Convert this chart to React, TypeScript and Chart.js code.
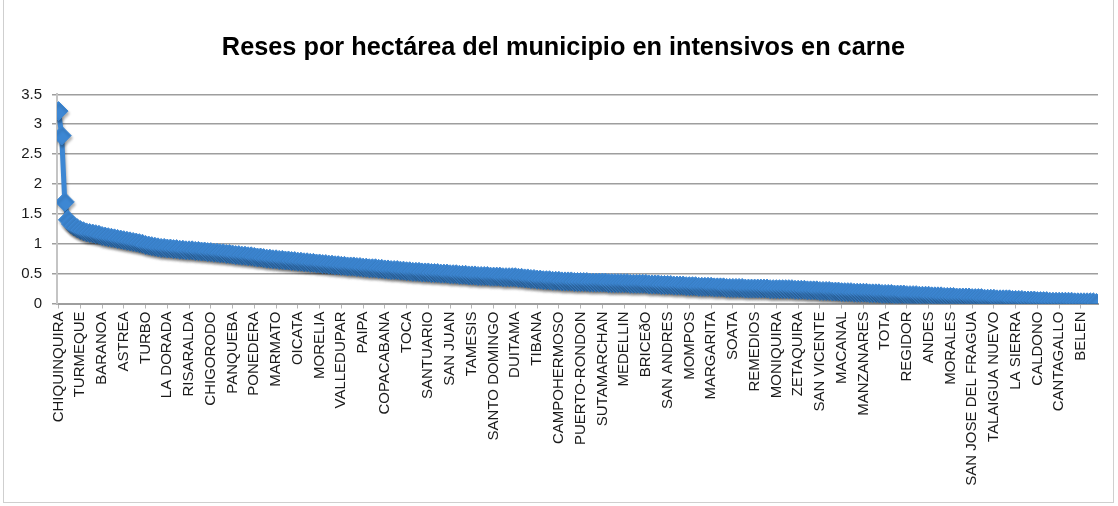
import React, { useEffect, useRef } from "react";
import { Chart, registerables } from "chart.js";

Chart.register(...registerables);

const chartTitle = "Reses por hectárea del municipio en intensivos en carne";

// Municipality names shown on the x axis (one label every `labelEvery` points)
const tickLabels = [
  "CHIQUINQUIRA", "TURMEQUE", "BARANOA", "ASTREA", "TURBO", "LA DORADA",
  "RISARALDA", "CHIGORODO", "PANQUEBA", "PONEDERA", "MARMATO", "OICATA",
  "MORELIA", "VALLEDUPAR", "PAIPA", "COPACABANA", "TOCA", "SANTUARIO",
  "SAN JUAN", "TAMESIS", "SANTO DOMINGO", "DUITAMA", "TIBANA", "CAMPOHERMOSO",
  "PUERTO-RONDON", "SUTAMARCHAN", "MEDELLIN", "BRICEðO", "SAN ANDRES", "MOMPOS",
  "MARGARITA", "SOATA", "REMEDIOS", "MONIQUIRA", "ZETAQUIRA", "SAN VICENTE",
  "MACANAL", "MANZANARES", "TOTA", "REGIDOR", "ANDES", "MORALES",
  "SAN JOSE DEL FRAGUA", "TALAIGUA NUEVO", "LA SIERRA", "CALDONO", "CANTAGALLO", "BELEN",
];
const labelEvery = 7;

// Reses por hectárea, one value per municipality (sorted descending)
const values = [
  3.22, 2.81, 1.70, 1.40, 1.33, 1.29, 1.26,
  1.23, 1.21, 1.19, 1.18, 1.17, 1.16, 1.15,
  1.13, 1.12, 1.11, 1.10, 1.09, 1.08, 1.07,
  1.06, 1.05, 1.04, 1.03, 1.02, 1.01, 1.00,
  0.98, 0.97, 0.96, 0.95, 0.94, 0.93, 0.93,
  0.92, 0.92, 0.91, 0.91, 0.90, 0.90, 0.89,
  0.89, 0.89, 0.88, 0.88, 0.87, 0.87, 0.86,
  0.86, 0.85, 0.85, 0.84, 0.84, 0.83, 0.83,
  0.82, 0.81, 0.81, 0.80, 0.80, 0.79, 0.79,
  0.78, 0.77, 0.77, 0.76, 0.75, 0.75, 0.74,
  0.74, 0.73, 0.73, 0.72, 0.72, 0.71, 0.71,
  0.70, 0.70, 0.69, 0.69, 0.68, 0.68, 0.67,
  0.67, 0.66, 0.66, 0.65, 0.65, 0.64, 0.64,
  0.63, 0.63, 0.62, 0.62, 0.62, 0.61, 0.61,
  0.60, 0.60, 0.59, 0.59, 0.59, 0.58, 0.58,
  0.57, 0.57, 0.56, 0.56, 0.56, 0.55, 0.55,
  0.54, 0.54, 0.53, 0.53, 0.53, 0.52, 0.52,
  0.52, 0.51, 0.51, 0.51, 0.50, 0.50, 0.50,
  0.49, 0.49, 0.49, 0.48, 0.48, 0.48, 0.47,
  0.47, 0.47, 0.46, 0.46, 0.46, 0.46, 0.45,
  0.45, 0.45, 0.45, 0.44, 0.44, 0.44, 0.44,
  0.44, 0.43, 0.43, 0.42, 0.42, 0.41, 0.41,
  0.40, 0.40, 0.39, 0.39, 0.39, 0.38, 0.38,
  0.38, 0.37, 0.37, 0.37, 0.37, 0.36, 0.36,
  0.36, 0.36, 0.36, 0.35, 0.35, 0.35, 0.35,
  0.35, 0.35, 0.34, 0.34, 0.34, 0.34, 0.34,
  0.34, 0.34, 0.33, 0.33, 0.33, 0.33, 0.33,
  0.33, 0.32, 0.32, 0.32, 0.32, 0.31, 0.31,
  0.31, 0.31, 0.30, 0.30, 0.30, 0.30, 0.29,
  0.29, 0.29, 0.29, 0.28, 0.28, 0.28, 0.28,
  0.28, 0.27, 0.27, 0.27, 0.27, 0.26, 0.26,
  0.26, 0.26, 0.26, 0.26, 0.25, 0.25, 0.25,
  0.25, 0.25, 0.25, 0.25, 0.25, 0.24, 0.24,
  0.24, 0.24, 0.24, 0.24, 0.24, 0.24, 0.23,
  0.23, 0.23, 0.23, 0.22, 0.22, 0.22, 0.22,
  0.21, 0.21, 0.21, 0.21, 0.20, 0.20, 0.20,
  0.19, 0.19, 0.19, 0.19, 0.18, 0.18, 0.18,
  0.18, 0.18, 0.17, 0.17, 0.17, 0.17, 0.16,
  0.16, 0.16, 0.16, 0.15, 0.15, 0.15, 0.15,
  0.14, 0.14, 0.14, 0.14, 0.13, 0.13, 0.13,
  0.13, 0.12, 0.12, 0.12, 0.12, 0.11, 0.11,
  0.11, 0.11, 0.10, 0.10, 0.10, 0.10, 0.10,
  0.09, 0.09, 0.09, 0.09, 0.08, 0.08, 0.08,
  0.08, 0.07, 0.07, 0.07, 0.07, 0.07, 0.06,
  0.06, 0.06, 0.06, 0.05, 0.05, 0.05, 0.05,
  0.04, 0.04, 0.04, 0.04, 0.03, 0.03, 0.03,
  0.03, 0.03, 0.03, 0.03, 0.03, 0.02, 0.02,
  0.02, 0.02, 0.02, 0.02, 0.02, 0.01,
];

const yMax = 3.5;
const yStep = 0.5;

const shadowPlugin = {
  id: "lineShadow",
  beforeDatasetsDraw(chart: any) {
    const ctx = chart.ctx;
    ctx.save();
    ctx.shadowColor = "rgba(0,0,0,0.32)";
    ctx.shadowBlur = 3;
    ctx.shadowOffsetX = 1;
    ctx.shadowOffsetY = 2.5;
  },
  afterDatasetsDraw(chart: any) {
    chart.ctx.restore();
  },
};

// centre the title over the region used in the original picture
const titleShiftPlugin = {
  id: "titleShift",
  afterLayout(chart: any) {
    const t = chart.titleBlock;
    if (t) {
      t.left = 29;
      t.right = chart.chartArea.right;
    }
  },
};

export default function App() {
  const canvasRef = useRef<HTMLCanvasElement | null>(null);

  useEffect(() => {
    const canvas = canvasRef.current;
    if (!canvas) return;
    const blue = "#3D87D3";
    const chart = new Chart(canvas, {
      type: "line",
      data: {
        datasets: [
          {
            data: values.map((v, i) => ({ x: i, y: v })),
            borderColor: blue,
            backgroundColor: blue,
            borderWidth: 5,
            pointStyle: "rectRot",
            pointRadius: 9.5,
            pointBackgroundColor: blue,
            pointBorderColor: blue,
            pointBorderWidth: 1,
            tension: 0,
          },
        ],
      },
      options: {
        animation: false,
        responsive: false,
        events: [],
        layout: { padding: { left: 0, right: 20, top: 0, bottom: 0 } },
        plugins: {
          legend: { display: false },
          tooltip: { enabled: false },
          title: {
            display: true,
            text: chartTitle,
            color: "#000",
            font: {
              family: "'Liberation Sans', Arial, sans-serif",
              size: 25.3,
              weight: "bold",
            },
            padding: { top: 33, bottom: 31 },
          },
        },
        scales: {
          x: {
            type: "linear",
            min: -0.5,
            max: values.length - 0.5,
            afterBuildTicks: (scale: any) => {
              scale.ticks = tickLabels.map((_, j) => ({ value: j * labelEvery }));
            },
            afterFit: (scale: any) => {
              scale.height = 202.5;
            },
            grid: {
              display: true,
              drawOnChartArea: false,
              drawTicks: true,
              tickLength: 5,
              color: "#b5b5b5",
            },
            border: { display: true, color: "#9e9e9e", width: 2 },
            ticks: {
              autoSkip: false,
              maxRotation: 90,
              minRotation: 90,
              padding: 3,
              color: "#1a1a1a",
              font: { family: "'Liberation Sans', Arial, sans-serif", size: 15 },
              callback: (v: any) => {
                const j = Math.round(Number(v) / labelEvery);
                return tickLabels[j] ?? "";
              },
            },
          },
          y: {
            min: 0,
            max: yMax,
            afterFit: (scale: any) => {
              scale.width = 57;
            },
            grid: {
              color: "#9e9e9e",
              lineWidth: 1.5,
              drawTicks: true,
              tickLength: 5,
            },
            border: { display: true, color: "#c4c4c4", width: 2 },
            ticks: {
              stepSize: yStep,
              padding: 10,
              color: "#1a1a1a",
              font: { family: "'Liberation Sans', Arial, sans-serif", size: 15 },
              callback: (v: any) => String(Math.round(Number(v) * 10) / 10),
            },
          },
        },
      },
      plugins: [shadowPlugin, titleShiftPlugin],
    } as any);
    return () => chart.destroy();
  }, []);

  return (
    <div style={{ position: "fixed", left: 0, top: 0, width: 1118, height: 506, background: "#fff" }}>
      <canvas ref={canvasRef} width={1118} height={506} style={{ position: "absolute", left: 0, top: 0 }} />
      <div
        style={{
          position: "absolute",
          left: 3,
          top: -2,
          width: 1111,
          height: 505,
          border: "1px solid #cfcfcf",
          boxSizing: "border-box",
          pointerEvents: "none",
        }}
      />
    </div>
  );
}
